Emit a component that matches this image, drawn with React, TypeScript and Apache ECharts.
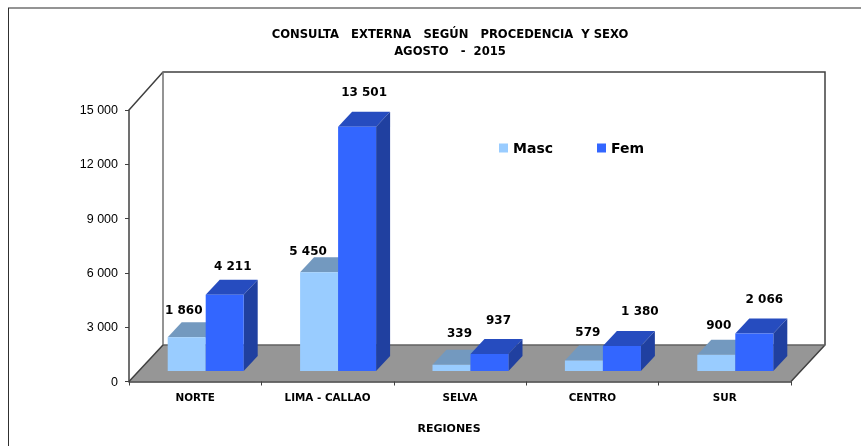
import React, { useEffect, useRef } from "react";
import * as echarts from "echarts";

const categories = ["NORTE", "LIMA - CALLAO", "SELVA", "CENTRO", "SUR"];
const masc = [1860, 5450, 339, 579, 900];
const fem = [4211, 13501, 937, 1380, 2066];
const seriesNames = ["Masc", "Fem"];
const fmt = (v: number) => String(v).replace(/\B(?=(\d{3})+(?!\d))/g, " ");

// layout of the drawn 3D box (pixels)
const G = { left: 129, right: 791, top: 110, bottom: 381.5 };
const WALL = { dx: 34, dy: 36.5 };
const BAR = { dx: 14, dy: 15, lift: 10.5, shift: 10.5, width: 38 };
const labelOffsetMasc: [number, number][] = [[-3, -27.5], [-11, -21], [8, -31.5], [4, -29], [2.5, -29.5]];
const labelOffsetFem: [number, number][] = [[8, -28.5], [7, -34.5], [9, -34], [18, -35.5], [10, -34.5]];

function faces(front: string, top: string, side: string, side_: number, offsets: [number, number][], data: number[]) {
  return {
    type: "custom",
    name: seriesNames[side_],
    coordinateSystem: "cartesian2d",
    itemStyle: { color: front },
    encode: { x: 0, y: 1 },
    data: data.map((v, i) => [i, v]),
    clip: false,
    renderItem: (params: any, api: any) => {
      const i = api.value(0);
      const v = api.value(1);
      const [cx, yTop0] = api.coord([i, v]);
      const [, y0] = api.coord([i, 0]);
      const yb = y0 - BAR.lift;
      const yt = yTop0 - BAR.lift;
      const xl = cx + BAR.shift - (side_ === 0 ? BAR.width : 0);
      const xr = xl + BAR.width;
      const { dx, dy } = BAR;
      const off = offsets[params.dataIndex];
      return {
        type: "group",
        children: [
          { type: "polygon", shape: { points: [[xl, yt], [xl + dx, yt - dy], [xr + dx, yt - dy], [xr, yt]] }, style: { fill: top } },
          { type: "polygon", shape: { points: [[xr, yt], [xr + dx, yt - dy], [xr + dx, yb - dy], [xr, yb]] }, style: { fill: side } },
          { type: "rect", shape: { x: xl, y: yt, width: BAR.width, height: yb - yt }, style: { fill: front } },
          {
            type: "text",
            x: (xl + xr) / 2 + off[0],
            y: yt + off[1],
            style: { text: fmt(v), fill: "#000", font: "bold 12px 'DejaVu Sans'", align: "center", verticalAlign: "middle" },
          },
        ],
      };
    },
  };
}

export default function App() {
  const ref = useRef<HTMLDivElement>(null);
  useEffect(() => {
    const chart = echarts.init(ref.current!, null, { renderer: "svg" });
    const backL = G.left + WALL.dx;
    const backR = G.right + WALL.dx;
    const backT = G.top - WALL.dy - 1.5;
    const backB = G.bottom - WALL.dy;
    const wall = { stroke: "#404040", lineWidth: 1.5 };
    chart.setOption({
      animation: false,
      backgroundColor: "#fff",
      title: [
        {
          text: "CONSULTA   EXTERNA   SEGÚN   PROCEDENCIA  Y SEXO\nAGOSTO   -  2015",
          left: 450,
          top: 25,
          padding: 0,
          textAlign: "center",
          textStyle: { fontFamily: "'DejaVu Sans'", fontWeight: "bold", fontSize: 11.6, lineHeight: 17, color: "#000" },
        },
      ],
      legend: {
        left: 499,
        top: 141,
        padding: 0,
        icon: "rect",
        data: seriesNames,
        itemWidth: 9,
        itemHeight: 9,
        itemGap: 44,
        textStyle: { fontFamily: "'DejaVu Sans'", fontWeight: "bold", fontSize: 14, color: "#000" },
      },
      grid: { left: G.left, top: G.top, width: G.right - G.left, height: G.bottom - G.top, containLabel: false },
      xAxis: {
        type: "category",
        data: categories,
        name: "REGIONES",
        nameLocation: "middle",
        nameGap: 41,
        nameTextStyle: { fontFamily: "'DejaVu Sans'", fontWeight: "bold", fontSize: 11, color: "#000", padding: [0, 22, 0, 0] },
        axisLine: { lineStyle: { color: "#404040", width: 1.5 } },
        axisTick: { show: true, length: 4, lineStyle: { color: "#404040" } },
        axisLabel: { fontFamily: "'DejaVu Sans'", fontWeight: "bold", fontSize: 10.4, color: "#000", margin: 10 },
      },
      yAxis: {
        type: "value",
        min: 0,
        max: 15000,
        interval: 3000,
        splitLine: { show: false },
        axisLine: { show: true, lineStyle: { color: "#404040", width: 1.5 } },
        axisTick: { show: true, length: 4, lineStyle: { color: "#404040" } },
        axisLabel: { fontFamily: "'Liberation Sans'", fontSize: 12.5, color: "#000", margin: 11, formatter: (v: number) => fmt(v) },
      },
      graphic: [
        { type: "line", z: -10, shape: { x1: 8, y1: 8, x2: 861, y2: 8 }, style: { stroke: "#707070", lineWidth: 1.5 } },
        { type: "line", z: -10, shape: { x1: 8.5, y1: 8, x2: 8.5, y2: 446 }, style: { stroke: "#303030", lineWidth: 1 } },
        { type: "polygon", z: -5, shape: { points: [[backL, backB], [backR, backB], [G.right, G.bottom], [G.left, G.bottom]] }, style: { fill: "#969696" } },
        { type: "polyline", z: -4, shape: { points: [[G.left, G.top], [backL, backT], [backR, backT], [backR, backB], [G.right, G.bottom]] }, style: { ...wall, fill: "none" } },
        { type: "line", z: -4, shape: { x1: backL, y1: backT, x2: backL, y2: backB }, style: { stroke: "#707070", lineWidth: 1.5 } },
        { type: "line", z: -4, shape: { x1: backL, y1: backB, x2: backR, y2: backB }, style: { stroke: "#606060", lineWidth: 1.5 } },
        { type: "line", z: -4, shape: { x1: backL, y1: backB, x2: G.left, y2: G.bottom }, style: wall },
      ],
      series: [
        faces("#99CCFF", "#7399BF", "#7399BF", 0, labelOffsetMasc, masc),
        faces("#3366FF", "#264CBF", "#2040A0", 1, labelOffsetFem, fem),
      ],
    });
    return () => chart.dispose();
  }, []);
  return <div ref={ref} style={{ position: "absolute", left: 0, top: 0, width: 861, height: 446, filter: "blur(0.35px)" }} />;
}
